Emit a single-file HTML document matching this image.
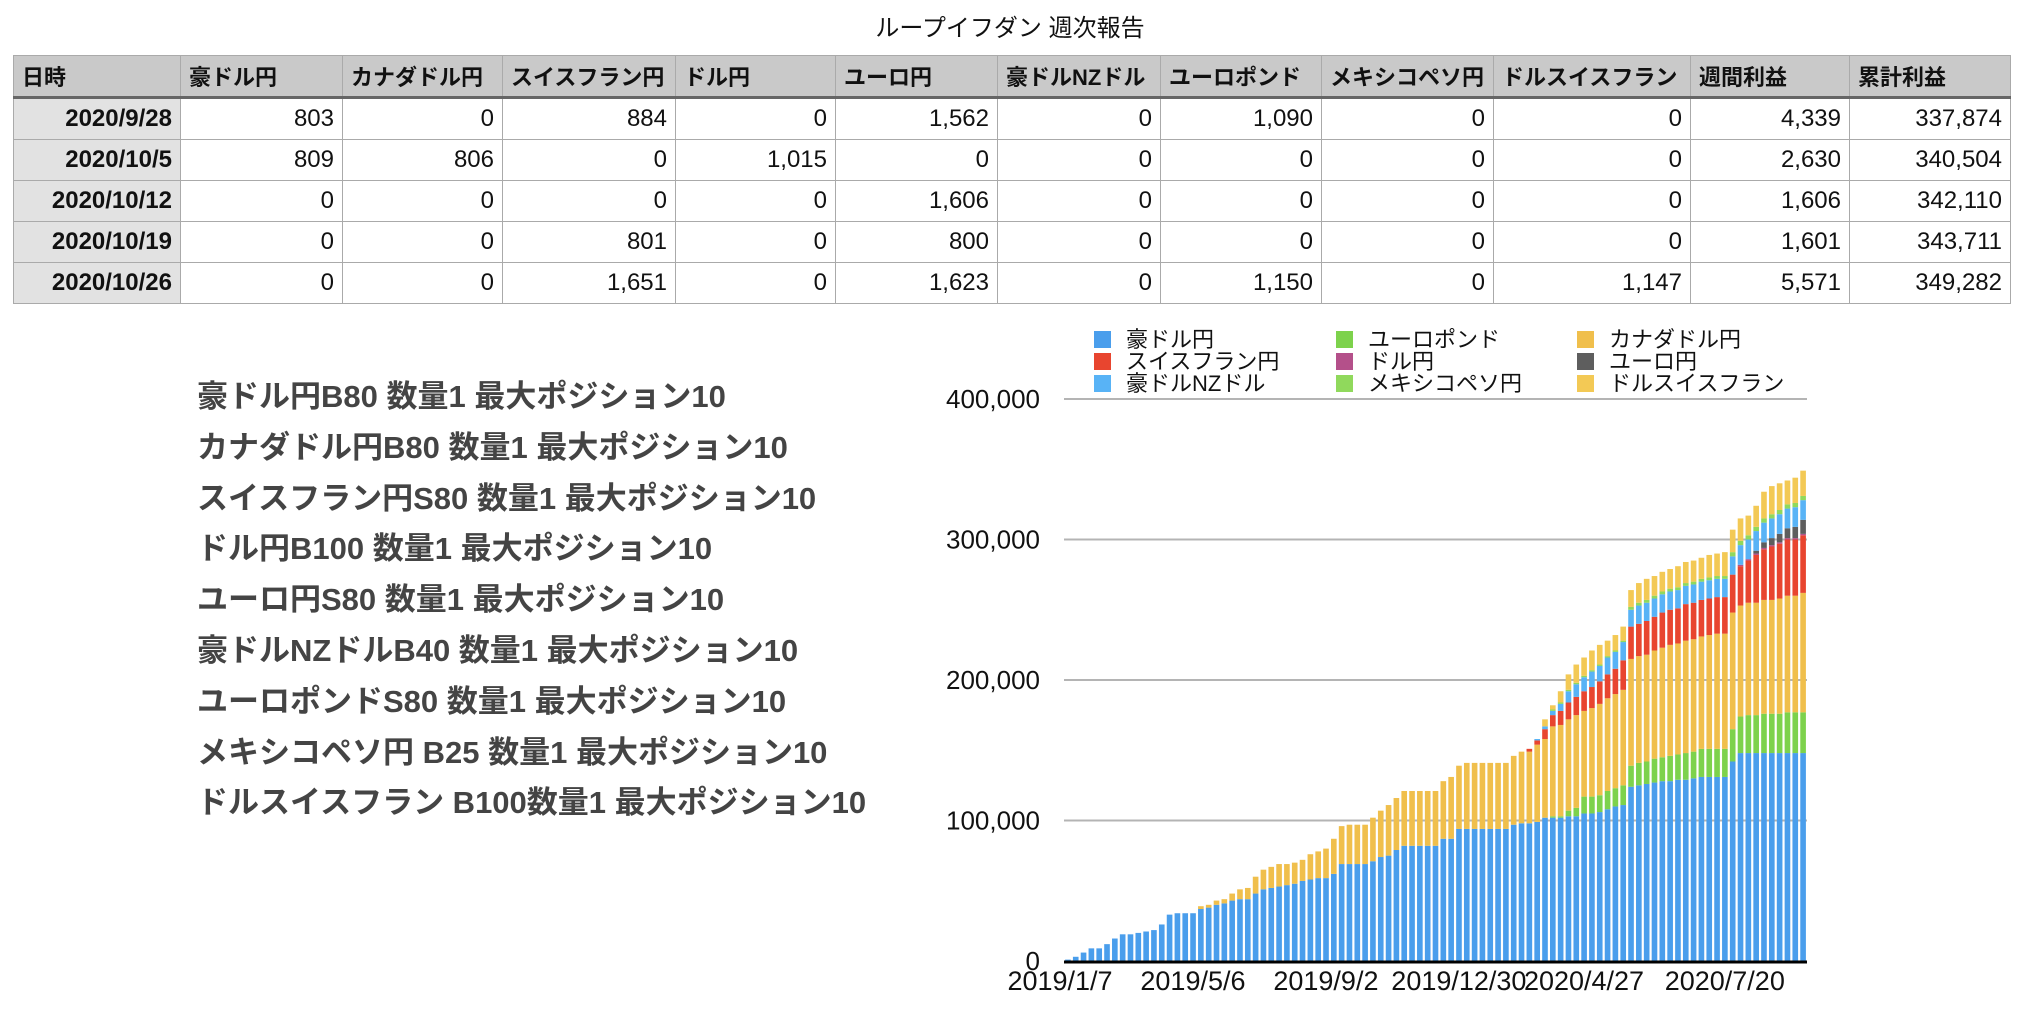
<!DOCTYPE html>
<html><head><meta charset="utf-8">
<style>
body{margin:0;width:2020px;height:1014px;background:#fff;position:relative;overflow:hidden;font-family:"Liberation Sans","Noto Sans CJK JP",sans-serif;}
#title{position:absolute;left:0;width:2020px;top:8px;text-align:center;font-size:24px;color:#111;}
table{position:absolute;left:13px;top:55px;border-collapse:collapse;font-size:24px;color:#111;table-layout:fixed;width:1997px;}
td,th{border:1px solid #aaa;padding:0 8px;white-space:nowrap;overflow:hidden;}
th{background:#c9c9c9;height:40px;text-align:left;font-size:22px;font-weight:bold;border-bottom:3px solid #666;}
td{height:40px;text-align:right;}
td.d{background:#e2e2e2;font-weight:bold;}
#notes{position:absolute;left:197px;top:372px;font-size:31px;font-weight:bold;color:#444;line-height:50.8px;}
</style></head><body>
<div id="title">ループイフダン 週次報告</div>
<table>
<colgroup><col style="width:167px"><col style="width:162px"><col style="width:160px"><col style="width:173px"><col style="width:160px"><col style="width:162px"><col style="width:163px"><col style="width:161px"><col style="width:172px"><col style="width:197px"><col style="width:159px"><col style="width:161px"></colgroup>
<tr>
<th>日時</th><th>豪ドル円</th><th>カナダドル円</th><th>スイスフラン円</th><th>ドル円</th><th>ユーロ円</th><th>豪ドルNZドル</th><th>ユーロポンド</th><th>メキシコペソ円</th><th>ドルスイスフラン</th><th>週間利益</th><th>累計利益</th></tr>
<tr><td class="d">2020/9/28</td><td>803</td><td>0</td><td>884</td><td>0</td><td>1,562</td><td>0</td><td>1,090</td><td>0</td><td>0</td><td>4,339</td><td>337,874</td></tr>
<tr><td class="d">2020/10/5</td><td>809</td><td>806</td><td>0</td><td>1,015</td><td>0</td><td>0</td><td>0</td><td>0</td><td>0</td><td>2,630</td><td>340,504</td></tr>
<tr><td class="d">2020/10/12</td><td>0</td><td>0</td><td>0</td><td>0</td><td>1,606</td><td>0</td><td>0</td><td>0</td><td>0</td><td>1,606</td><td>342,110</td></tr>
<tr><td class="d">2020/10/19</td><td>0</td><td>0</td><td>801</td><td>0</td><td>800</td><td>0</td><td>0</td><td>0</td><td>0</td><td>1,601</td><td>343,711</td></tr>
<tr><td class="d">2020/10/26</td><td>0</td><td>0</td><td>1,651</td><td>0</td><td>1,623</td><td>0</td><td>1,150</td><td>0</td><td>1,147</td><td>5,571</td><td>349,282</td></tr>
</table>
<div id="notes">
<div>豪ドル円B80 数量1 最大ポジション10</div>
<div>カナダドル円B80 数量1 最大ポジション10</div>
<div>スイスフラン円S80 数量1 最大ポジション10</div>
<div>ドル円B100 数量1 最大ポジション10</div>
<div>ユーロ円S80 数量1 最大ポジション10</div>
<div>豪ドルNZドルB40 数量1 最大ポジション10</div>
<div>ユーロポンドS80 数量1 最大ポジション10</div>
<div>メキシコペソ円 B25 数量1 最大ポジション10</div>
<div>ドルスイスフラン B100数量1 最大ポジション10</div>
</div>
<svg id="chart" width="2020" height="1014" style="position:absolute;left:0;top:0"></svg>
<script>
const seriesNames=["豪ドル円","ユーロポンド","カナダドル円","スイスフラン円","ドル円","ユーロ円","豪ドルNZドル","メキシコペソ円","ドルスイスフラン"];
const seriesColors=["#4a9eec","#7dd24c","#f0bf4c","#e8452f","#b4508a","#5e5e5e","#58b3f6","#90d95c","#f3c955"];
// values in thousands of yen, bar index 0 = 2019/1/7
const audjpy=[1,3,6,9,9,12,16,19,19,20,21,22,26,33,34,34,34,37,38,40,41,43,44,44,48,51,52,53,54,55,57,58,59,59,62,69,69,69,69,71,74,75,79,82,82,82,82,82,87,87,94,94,94,94,94,94,94,97,98,98,99,102,102,102,103,103,105,105,106,108,110,111,124,125,126,127,128,128,129,129,130,131,131,131,131,142,148,148,148,148,148,148,148,148,148];
const eurgbp=[0,0,0,0,0,0,0,0,0,0,0,0,0,0,0,0,0,0,0,0,0,0,0,0,0,0,0,0,0,0,0,0,0,0,0,0,0,0,0,0,0,0,0,0,0,0,0,0,0,0,0,0,0,0,0,0,0,0,0,0,0,0,1,1,4,6,12,12,12,13,13,14,15,16,16,17,17,18,18,19,19,20,20,20,20,23,26,27,27,28,28,28,29,29,29];
const cadjpy=[0,0,0,0,0,0,0,0,0,0,0,0,0,0,0,0,0,2,2,3,3,5,7,8,12,14,15,16,15,15,15,18,19,21,25,27,28,28,28,31,33,36,37,39,39,39,39,39,41,44,45,47,47,47,47,47,47,49,51,51,55,56,64,65,65,66,61,63,65,66,67,68,76,76,76,77,78,79,79,80,80,80,81,82,82,83,79,80,80,81,81,82,83,83,85];
const chfjpy=[0,0,0,0,0,0,0,0,0,0,0,0,0,0,0,0,0,0,0,0,0,0,0,0,0,0,0,0,0,0,0,0,0,0,0,0,0,0,0,0,0,0,0,0,0,0,0,0,0,0,0,0,0,0,0,0,0,0,0,2,3,7,8,10,12,13,14,15,16,17,18,21,23,23,24,24,25,25,25,26,26,26,26,26,26,27,28,30,34,36,38,39,40,40,41];
const usdjpy=[0,0,0,0,0,0,0,0,0,0,0,0,0,0,0,0,0,0,0,0,0,0,0,0,0,0,0,0,0,0,0,0,0,0,0,0,0,0,0,0,0,0,0,0,0,0,0,0,0,0,0,0,0,0,0,0,0,0,0,0,0,0,0,0,0,0,0,0,0,0,0,0,0,0,0,0,0,0,0,0,0,0,0,0,0,0,1,1,1,1,1,1,1,1,1];
const eurjpy=[0,0,0,0,0,0,0,0,0,0,0,0,0,0,0,0,0,0,0,0,0,0,0,0,0,0,0,0,0,0,0,0,0,0,0,0,0,0,0,0,0,0,0,0,0,0,0,0,0,0,0,0,0,0,0,0,0,0,0,0,0,0,0,0,0,0,0,0,0,0,0,0,0,0,0,0,0,0,0,0,0,0,0,0,0,0,0,0,2,4,5,6,7,8,10];
const audnzd=[0,0,0,0,0,0,0,0,0,0,0,0,0,0,0,0,0,0,0,0,0,0,0,0,0,0,0,0,0,0,0,0,0,0,0,0,0,0,0,0,0,0,0,0,0,0,0,0,0,0,0,0,0,0,0,0,0,0,0,0,1,2,3,5,8,9,10,11,11,12,12,13,12,13,13,13,13,13,13,13,13,13,13,13,13,13,14,14,14,14,14,14,14,14,14];
const mxnjpy=[0,0,0,0,0,0,0,0,0,0,0,0,0,0,0,0,0,0,0,0,0,0,0,0,0,0,0,0,0,0,0,0,0,0,0,0,0,0,0,0,0,0,0,0,0,0,0,0,0,0,0,0,0,0,0,0,0,0,0,0,0,0,1,1,1,1,1,1,1,1,1,1,2,2,2,2,2,2,2,2,2,2,2,2,2,3,3,3,3,3,3,3,3,3,3];
const usdchf=[0,0,0,0,0,0,0,0,0,0,0,0,0,0,0,0,0,0,0,0,0,0,0,0,0,0,0,0,0,0,0,0,0,0,0,0,0,0,0,0,0,0,0,0,0,0,0,0,0,0,0,0,0,0,0,0,0,0,0,0,0,5,3,8,11,13,13,14,14,11,11,10,12,14,15,14,14,14,15,15,15,15,16,16,17,16,16,14,15,19,20,19,17,18,18];
const yTicks=[0,100,200,300,400];
const yTickLabels=["0","100,000","200,000","300,000","400,000"];
const xLabelIdx=[0,17,34,51,67,85];
const xLabels=["2019/1/7","2019/5/6","2019/9/2","2019/12/30","2020/4/27","2020/7/20"];

const series=[audjpy,eurgbp,cadjpy,chfjpy,usdjpy,eurjpy,audnzd,mxnjpy,usdchf];
const NS="http://www.w3.org/2000/svg";
const svg=document.getElementById('chart');
const X0=1064,X1=1807,Y0=961,YTOP=399,YMAX=400;
const n=audjpy.length, slot=(X1-X0)/n, bw=slot*0.72;
const xs=i=>X0+i*slot;
const ys=v=>Y0-(v/YMAX)*(Y0-YTOP);
function mk(tag,attrs){const e=document.createElementNS(NS,tag);for(const k in attrs)e.setAttribute(k,attrs[k]);svg.appendChild(e);return e;}
yTicks.forEach((t,k)=>{
 if(t>0){const g=mk('line',{x1:X0,x2:X1,y1:ys(t),y2:ys(t),stroke:'#b4b4b4','stroke-width':2});
 
 }
 const tx=mk('text',{x:1040,y:ys(t)+9,'text-anchor':'end','font-size':26,fill:'#111'});
 tx.textContent=yTickLabels[k];
 
 
});
for(let i=0;i<n;i++){
 let acc=0;
 series.forEach((s,j)=>{
  const v=s[i]; if(v<=0) return;
  const r=mk('rect',{x:xs(i)+(slot-bw)/2,y:ys(acc+v),width:bw,height:ys(acc)-ys(acc+v),fill:seriesColors[j]});
  
  
  acc+=v;
 });
}
const ax=mk('line',{x1:X0,x2:X1,y1:Y0+1,y2:Y0+1,stroke:'#000','stroke-width':3});


xLabelIdx.forEach((idx,k)=>{
 const tx=mk('text',{x:xs(idx)-4,y:990,'text-anchor':'middle','font-size':27,fill:'#111'});
 tx.textContent=xLabels[k];
 
 
});
const legCols=[1094,1336,1577],legRows=[339,361,383];
seriesNames.forEach((nm,j)=>{
 const cx=legCols[j%3],cy=legRows[Math.floor(j/3)];
 const r=mk('rect',{x:cx,y:cy-8,width:17,height:17,fill:seriesColors[j]});
 
 
 const t=mk('text',{x:cx+32,y:cy+8,'font-size':22,fill:'#111'});
 t.textContent=nm;
 
 
});
</script>
</body></html>
